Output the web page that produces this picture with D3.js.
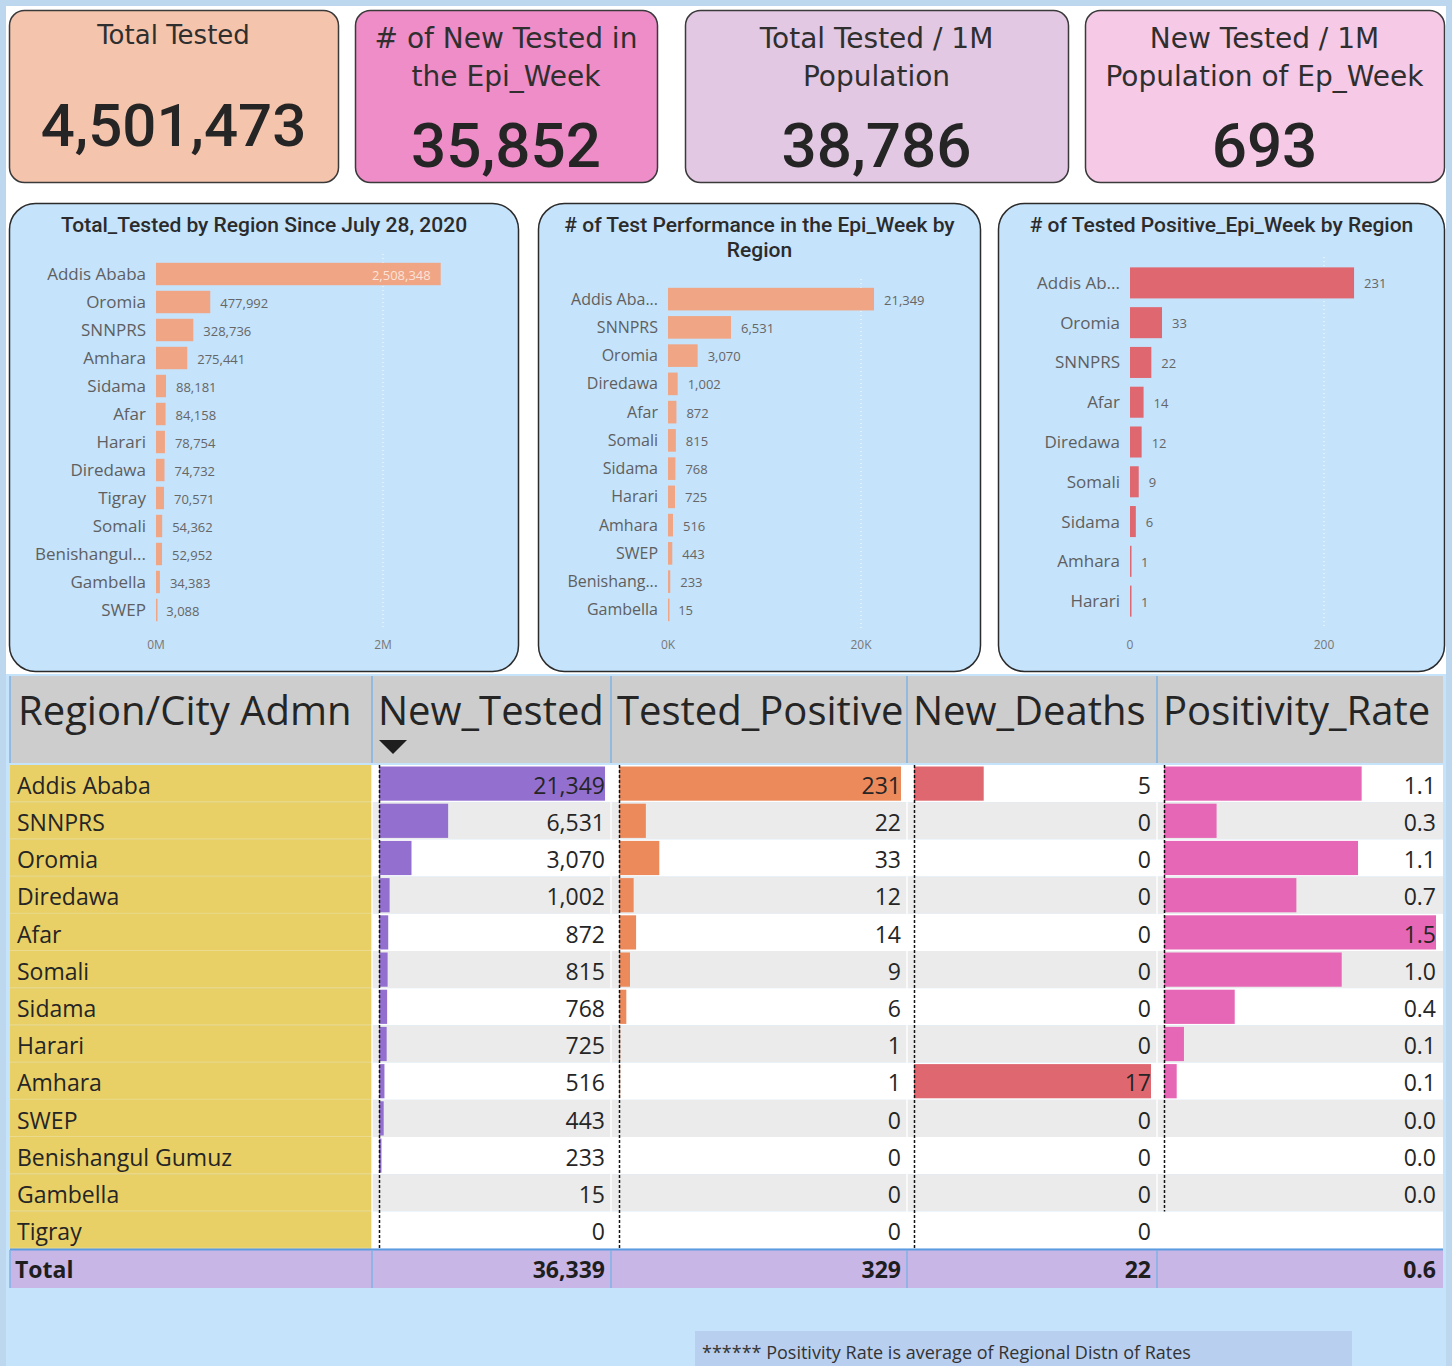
<!DOCTYPE html>
<html>
<head>
<meta charset="utf-8">
<script src="https://cdn.jsdelivr.net/npm/d3@7"></script>
<style>
  html, body { margin: 0; padding: 0; background: #c5e3fb; }
  svg { display: block; }
</style>
</head>
<body>
<svg id="chart" width="1452" height="1366"></svg>
<script>
// ---------------- DATA ----------------
const kpiTitles = [["Total Tested"], ["# of New Tested in", "the Epi_Week"], ["Total Tested / 1M", "Population"], ["New Tested / 1M", "Population of Ep_Week"]];
const kpiValues = [4501473, 35852, 38786, 693];

const totalRegions = ["Addis Ababa", "Oromia", "SNNPRS", "Amhara", "Sidama", "Afar", "Harari", "Diredawa", "Tigray", "Somali", "Benishangul Gumuz", "Gambella", "SWEP"];
const totalTested = [2508348, 477992, 328736, 275441, 88181, 84158, 78754, 74732, 70571, 54362, 52952, 34383, 3088];
const totalTicks = [0, 2000000];
const totalTickLabels = ["0M", "2M"];

const weekRegions = ["Addis Ababa", "SNNPRS", "Oromia", "Diredawa", "Afar", "Somali", "Sidama", "Harari", "Amhara", "SWEP", "Benishangul Gumuz", "Gambella"];
const weekTested = [21349, 6531, 3070, 1002, 872, 815, 768, 725, 516, 443, 233, 15];
const weekTicks = [0, 20000];
const weekTickLabels = ["0K", "20K"];

const posRegions = ["Addis Ababa", "Oromia", "SNNPRS", "Afar", "Diredawa", "Somali", "Sidama", "Amhara", "Harari"];
const posValues = [231, 33, 22, 14, 12, 9, 6, 1, 1];
const posTicks = [0, 200];
const posTickLabels = ["0", "200"];

const tableHeaders = ["Region/City Admn", "New_Tested", "Tested_Positive", "New_Deaths", "Positivity_Rate"];
const tableRegions = ["Addis Ababa", "SNNPRS", "Oromia", "Diredawa", "Afar", "Somali", "Sidama", "Harari", "Amhara", "SWEP", "Benishangul Gumuz", "Gambella", "Tigray"];
const tableNewTested = [21349, 6531, 3070, 1002, 872, 815, 768, 725, 516, 443, 233, 15, 0];
const tablePositive = [231, 22, 33, 12, 14, 9, 6, 1, 1, 0, 0, 0, 0];
const tableDeaths = [5, 0, 0, 0, 0, 0, 0, 0, 17, 0, 0, 0, 0];
const tableRate = [1.09, 0.29, 1.07, 0.73, 1.50, 0.98, 0.39, 0.11, 0.07, 0.0, 0.0, 0.0, null];
const tableTotals = ["Total", "36,339", "329", "22", "0.6"];
const footnote = "****** Positivity Rate is average of Regional Distn of Rates";

// ---------------- DRAW ----------------
const svg = d3.select("#chart");
const fmt = d3.format(",");

// backgrounds
svg.append("rect").attr("x", 0).attr("y", 0).attr("width", 1452).attr("height", 1366).attr("fill", "#bdd7ef");
svg.append("rect").attr("x", 6).attr("y", 6).attr("width", 1440).attr("height", 1360).attr("fill", "#c5e3fb");
svg.append("rect").attr("x", 6).attr("y", 6).attr("width", 1440).attr("height", 668).attr("fill", "#ffffff");

// KPI cards
const cards = [
  {x: 9, w: 329, fill: "#f5c4ad"},
  {x: 355, w: 302, fill: "#ee8dc8"},
  {x: 685, w: 383, fill: "#e2c8e3"},
  {x: 1085, w: 359, fill: "#f6cae6"}
];
cards.forEach((c, i) => {
  const g = svg.append("g");
  g.append("rect").attr("x", c.x + 0.5).attr("y", 10.5).attr("width", c.w).attr("height", 172)
    .attr("rx", 15).attr("fill", c.fill).attr("stroke", "#3a3a3a").attr("stroke-width", 1.5);
  const cx = c.x + c.w / 2;
  const lines = kpiTitles[i];
  lines.forEach((t, j) => {
    g.append("text").attr("x", cx).attr("y", (lines.length === 1 ? 44 : 48) + j * 38)
      .attr("text-anchor", "middle").attr("font-family", "DejaVu Sans")
      .attr("font-size", lines.length === 1 ? 26 : 28)
      .attr("fill", "#2f2f2f").text(t);
  });
  g.append("text").attr("x", cx).attr("y", i === 0 ? 146 : 167)
    .attr("text-anchor", "middle").attr("font-family", "Roboto").attr("font-weight", 500)
    .attr("font-size", i === 0 ? 60 : 62)
    .attr("fill", "#252525").text(fmt(kpiValues[i]));
});

// bar chart panels
function truncate(sel, maxW) {
  sel.each(function () {
    const t = d3.select(this);
    let s = t.text();
    if (this.getComputedTextLength() <= maxW) return;
    while (s.length > 1) {
      s = s.slice(0, -1);
      t.text(s.trimEnd() + "...");
      if (this.getComputedTextLength() <= maxW) break;
    }
  });
}

function barPanel(opt) {
  const g = svg.append("g");
  g.append("rect").attr("x", opt.px + 0.5).attr("y", 203.5).attr("width", opt.pw).attr("height", 468)
    .attr("rx", 26).attr("fill", "#c5e3fb").attr("stroke", "#2b2b2b").attr("stroke-width", 1.5);
  opt.title.forEach((t, j) => {
    g.append("text").attr("x", opt.px + opt.pw / 2 + 0.5).attr("y", 232 + j * 25)
      .attr("text-anchor", "middle").attr("font-family", "Roboto").attr("font-weight", 500)
      .attr("font-size", 21).attr("fill", "#2b2b2b").text(t);
  });
  const x = d3.scaleLinear().domain(opt.domain).range(opt.range);
  const y = d3.scaleBand().domain(opt.cats).range(opt.yRange).paddingInner(opt.pad).paddingOuter(opt.pad / 2);
  // gridlines
  opt.ticks.forEach((t, k) => {
    if (t !== 0) {
      g.append("line").attr("x1", x(t)).attr("x2", x(t)).attr("y1", opt.yRange[0] - 6).attr("y2", opt.yRange[1] + 6)
        .attr("stroke", "#ffffff").attr("stroke-dasharray", "1,3").attr("stroke-width", 1);
    }
    g.append("text").attr("x", x(t)).attr("y", 649).attr("text-anchor", "middle")
      .attr("font-family", "Open Sans").attr("font-size", 12).attr("fill", "#777").text(opt.tickLabels[k]);
  });
  // bars
  g.selectAll(".bar").data(opt.values).join("rect")
    .attr("x", x(0)).attr("y", (d, i) => y(opt.cats[i]))
    .attr("width", d => Math.max(1.5, x(d) - x(0))).attr("height", y.bandwidth())
    .attr("fill", opt.color);
  // category labels
  g.selectAll(".lab").data(opt.cats).join("text")
    .attr("x", x(0) - 10).attr("y", d => y(d) + y.bandwidth() / 2)
    .attr("dy", "0.35em").attr("text-anchor", "end").attr("font-family", "Open Sans")
    .attr("font-size", opt.labSize).attr("fill", "#5f5f5f").text(d => d)
    .call(truncate, opt.labMax);
  // value labels
  g.selectAll(".val").data(opt.values).join("text")
    .attr("x", (d, i) => (opt.inside && i === 0) ? x(d) - 10 : x(d) + 10)
    .attr("y", (d, i) => y(opt.cats[i]) + y.bandwidth() / 2 + 1)
    .attr("dy", "0.35em").attr("text-anchor", (d, i) => (opt.inside && i === 0) ? "end" : "start")
    .attr("font-family", "Open Sans").attr("font-size", 13)
    .attr("fill", (d, i) => (opt.inside && i === 0) ? "#fbe3d8" : "#666").text(d => fmt(d));
}

barPanel({px: 9, pw: 509, title: ["Total_Tested by Region Since July 28, 2020"], cats: totalRegions, values: totalTested,
  domain: [0, 2000000], range: [156, 383], yRange: [260, 624], pad: 0.2, color: "#f0a584",
  ticks: totalTicks, tickLabels: totalTickLabels, labSize: 17, labMax: 112, inside: true});
barPanel({px: 538, pw: 442, title: ["# of Test Performance in the Epi_Week by", "Region"], cats: weekRegions, values: weekTested,
  domain: [0, 20000], range: [668, 861], yRange: [285, 624], pad: 0.2, color: "#f0a584",
  ticks: weekTicks, tickLabels: weekTickLabels, labSize: 16, labMax: 92, inside: false});
barPanel({px: 998, pw: 446, title: ["# of Tested Positive_Epi_Week by Region"], cats: posRegions, values: posValues,
  domain: [0, 200], range: [1130, 1324], yRange: [263, 621], pad: 0.22, color: "#df6870",
  ticks: posTicks, tickLabels: posTickLabels, labSize: 17, labMax: 90, inside: false});

// ---------------- TABLE ----------------
const tLeft = 10, tRight = 1443;
const colEdges = [10, 372, 611, 907, 1157, 1443];
const headTop = 676, headBot = 763;
const rowTop = 765, rowH = 37.2;
const tg = svg.append("g");

tg.append("rect").attr("x", tLeft).attr("y", headTop).attr("width", tRight - tLeft).attr("height", headBot - headTop).attr("fill", "#cdcdcd");
tableHeaders.forEach((h, i) => {
  tg.append("text").attr("x", colEdges[i] + (i === 0 ? 8 : 6)).attr("y", 725)
    .attr("font-family", "Open Sans").attr("font-size", 40).attr("fill", "#252525").text(h);
});
// sort arrow
tg.append("path").attr("d", `M379,740 L407,740 L393,754 Z`).attr("fill", "#1e1e1e");

// rows
const rowY = d3.scaleBand().domain(d3.range(tableRegions.length)).range([rowTop, rowTop + rowH * tableRegions.length]);
tableRegions.forEach((r, i) => {
  const y0 = rowY(i);
  tg.append("rect").attr("x", colEdges[1]).attr("y", y0).attr("width", tRight - colEdges[1]).attr("height", rowH)
    .attr("fill", i % 2 === 0 ? "#ffffff" : "#ebebeb");
  tg.append("rect").attr("x", tLeft).attr("y", y0).attr("width", colEdges[1] - tLeft).attr("height", rowH)
    .attr("fill", "#e8d066");
  tg.append("line").attr("x1", tLeft).attr("x2", colEdges[1]).attr("y1", y0 + rowH - 0.5).attr("y2", y0 + rowH - 0.5)
    .attr("stroke", "#ecdb8e").attr("stroke-width", 1);
  tg.append("text").attr("x", 17).attr("y", y0 + rowH / 2 + 2).attr("dy", "0.36em")
    .attr("font-family", "Open Sans").attr("font-size", 23).attr("fill", "#252525").text(r);
});
// vertical column faint separators in body
colEdges.slice(1, 5).forEach(cx => {
  tg.append("line").attr("x1", cx).attr("x2", cx).attr("y1", rowTop).attr("y2", rowTop + rowH * 13)
    .attr("stroke", "#ffffff").attr("stroke-width", 2).attr("opacity", 0.7);
});

const dataCols = [
  {vals: tableNewTested, color: "#9370d0", x0: 379, x1: 605, fmt: d3.format(","), max: d3.max(tableNewTested)},
  {vals: tablePositive, color: "#ec8a5c", x0: 619, x1: 901, fmt: d3.format(","), max: d3.max(tablePositive)},
  {vals: tableDeaths, color: "#df6870", x0: 914, x1: 1151, fmt: d3.format(","), max: d3.max(tableDeaths)},
  {vals: tableRate, color: "#e667b5", x0: 1164, x1: 1436, fmt: d3.format(".1f"), max: d3.max(tableRate)}
];
dataCols.forEach(c => {
  const x = d3.scaleLinear().domain([0, c.max]).range([c.x0, c.x1]);
  const n = c.vals.filter(v => v !== null).length;
  tg.selectAll(null).data(c.vals).join("rect")
    .attr("x", x(0)).attr("y", (d, i) => rowY(i) + 1.5)
    .attr("width", d => d ? x(d) - x(0) : 0).attr("height", rowH - 3)
    .attr("fill", c.color);
  tg.append("line").attr("x1", c.x0 + 0.5).attr("x2", c.x0 + 0.5).attr("y1", rowTop).attr("y2", rowTop + rowH * n)
    .attr("stroke", "#111").attr("stroke-width", 1.5).attr("stroke-dasharray", "3,2");
  tg.selectAll(null).data(c.vals).join("text")
    .attr("x", c.x1).attr("y", (d, i) => rowY(i) + rowH / 2 + 2).attr("dy", "0.36em")
    .attr("text-anchor", "end").attr("font-family", "Open Sans").attr("font-size", 23).attr("fill", "#252525")
    .text(d => d === null ? "" : c.fmt(d));
});

// total row
const totTop = 1250, totH = 38;
tg.append("rect").attr("x", tLeft).attr("y", totTop).attr("width", tRight - tLeft).attr("height", totH).attr("fill", "#c8b6e6");
tg.append("line").attr("x1", tLeft).attr("x2", tRight).attr("y1", totTop - 0.5).attr("y2", totTop - 0.5)
  .attr("stroke", "#5d9be0").attr("stroke-width", 2);
tableTotals.forEach((t, i) => {
  const right = i === 0 ? null : [605, 901, 1151, 1436][i - 1];
  tg.append("text").attr("x", i === 0 ? 15 : right).attr("y", totTop + totH / 2 + 1).attr("dy", "0.36em")
    .attr("text-anchor", i === 0 ? "start" : "end").attr("font-family", "Open Sans").attr("font-weight", "bold")
    .attr("font-size", 23).attr("fill", "#1e1e1e").text(t);
});
// blue column separators in header and total
colEdges.forEach((cx, i) => {
  if (i === 5) return;
  tg.append("line").attr("x1", cx).attr("x2", cx).attr("y1", headTop).attr("y2", headBot)
    .attr("stroke", "#7fb2e5").attr("stroke-width", 1.5);
  tg.append("line").attr("x1", cx).attr("x2", cx).attr("y1", totTop).attr("y2", totTop + totH)
    .attr("stroke", "#7fb2e5").attr("stroke-width", 1.5);
});

// footnote
svg.append("rect").attr("x", 695).attr("y", 1331).attr("width", 657).attr("height", 35).attr("fill", "#b8cff0");
svg.append("text").attr("x", 702).attr("y", 1359).attr("font-family", "Open Sans").attr("font-size", 18)
  .attr("fill", "#333").text(footnote);
</script>
</body>
</html>
